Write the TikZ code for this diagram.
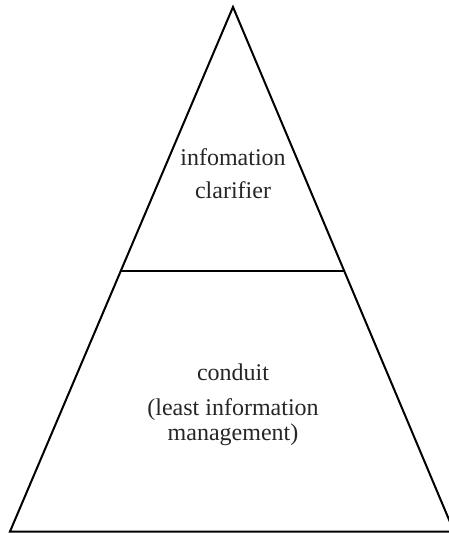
\documentclass[tikz,border=0pt]{standalone}
\usepackage{fontspec}
\setmainfont{Liberation Serif}
\usetikzlibrary{calc}
\begin{document}
\begin{tikzpicture}[x=1pt,y=-1pt,
  edge/.style={line width=2pt,line join=miter},
  lbl/.style={align=center,text=black!85,inner sep=0pt,anchor=base}]
\useasboundingbox (0,0) rectangle (448,533);
\coordinate (apex) at (233,7);
\coordinate (bl) at (10,531.5);
\coordinate (br) at (454,531.5);
\draw[edge] (apex) -- (bl) -- (br) -- cycle;
\coordinate (ml) at ($(apex)!0.5024!(bl)$);
\coordinate (mr) at ($(apex)!0.5024!(br)$);
\draw[edge] (ml) -- (mr);
\node[lbl,font=\fontsize{24}{33}\selectfont] (top) at (233,165) {infomation};
\node[lbl,font=\fontsize{24}{33}\selectfont] (top2) at (233,198) {clarifier};
\node[lbl,font=\fontsize{24}{25}\selectfont] (bot) at (233,380) {conduit};
\node[lbl,font=\fontsize{24}{25}\selectfont] (bot2) at (233,415) {(least information};
\node[lbl,font=\fontsize{24}{25}\selectfont] (bot3) at (233,440) {management)};
\end{tikzpicture}
\end{document}
